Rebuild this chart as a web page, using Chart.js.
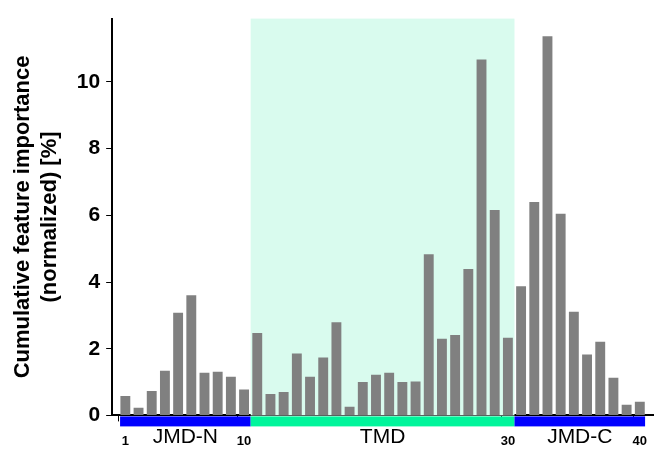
<!DOCTYPE html>
<html>
<head>
<meta charset="utf-8">
<script src="https://cdn.jsdelivr.net/npm/chart.js@4"></script>
<style>
  body { margin: 0; background: #fff; }
  #wrap { width: 665px; height: 465px; }
</style>
</head>
<body>
<div id="wrap"><canvas id="importanceChart"></canvas></div>
<script>
// Data
const positions = Array.from({ length: 42 }, (_, i) => i); // 0 and 41 are empty padding slots
const importance = [0.58, 0.23, 0.73, 1.34, 3.08, 3.6, 1.28, 1.31, 1.16, 0.78,
                    2.47, 0.64, 0.7, 1.86, 1.16, 1.74, 2.79, 0.26, 1.0, 1.22,
                    1.28, 1.0, 1.02, 4.83, 2.3, 2.41, 4.39, 10.67, 6.16, 2.33,
                    3.87, 6.4, 11.37, 6.05, 3.11, 1.83, 2.21, 1.13, 0.32, 0.41];
const xTicks = [1, 10, 30, 40];
const regions = [
    { name: 'JMD-N', from: 0.6, to: 10.5, color: '#0000ff' },
    { name: 'TMD', from: 10.5, to: 30.5, color: '#00f59b' },
    { name: 'JMD-C', from: 30.5, to: 40.4, color: '#0000ff' }
];

// Custom plugin: TMD shading and region band below the x axis
const regionPlugin = {
    id: 'regionPlugin',
    beforeDatasetsDraw: (chart) => {
        const ctx = chart.ctx;
        const x = chart.scales.x;
        const area = chart.chartArea;
        ctx.save();
        ctx.fillStyle = '#d9fbee';
        ctx.fillRect(x.getPixelForValue(10.5), area.top,
                     x.getPixelForValue(30.5) - x.getPixelForValue(10.5), area.bottom - area.top);
        ctx.restore();
    },
    afterDraw: (chart) => {
        const ctx = chart.ctx;
        const x = chart.scales.x;
        const bottom = chart.chartArea.bottom;
        ctx.save();
        regions.forEach(r => {
            const x0 = x.getPixelForValue(r.from);
            const x1 = x.getPixelForValue(r.to);
            ctx.fillStyle = r.color;
            ctx.fillRect(x0, bottom + 1, x1 - x0, 10);
            ctx.fillStyle = '#000';
            ctx.font = '21px "Liberation Sans", Arial';
            ctx.textAlign = 'center';
            ctx.textBaseline = 'middle';
            ctx.fillText(r.name, (x0 + x1) / 2, bottom + 22);
        });
        ctx.restore();
    }
};

const ctx = document.getElementById('importanceChart').getContext('2d');
new Chart(ctx, {
    type: 'bar',
    data: {
        labels: positions.map(String),
        datasets: [{
            data: [null].concat(importance, [null]),
            backgroundColor: '#808080',
            barPercentage: 0.75,
            categoryPercentage: 1
        }]
    },
    options: {
        responsive: true,
        maintainAspectRatio: false,
        animation: false,
        layout: { padding: { top: 8, right: 10, bottom: 4, left: 6 } },
        scales: {
            x: {
                offset: false,
                ticks: {
                    autoSkip: false,
                    maxRotation: 0,
                    color: '#000',
                    padding: 12,
                    font: { family: '"Liberation Sans", Arial', size: 13, weight: 'bold' },
                    callback: (v) => xTicks.includes(v) ? String(v) : ''
                },
                grid: {
                    display: true, drawOnChartArea: false, drawTicks: true, tickLength: 6,
                    color: (c) => xTicks.includes(c.index) ? '#000' : 'rgba(0,0,0,0)'
                },
                border: { color: '#000', width: 2 }
            },
            y: {
                min: 0,
                max: 11.9,
                afterBuildTicks: (axis) => { axis.ticks = [0, 2, 4, 6, 8, 10].map(v => ({ value: v })); },
                ticks: {
                    color: '#000',
                    padding: 6,
                    font: { family: '"Liberation Sans", Arial', size: 21, weight: 'bold' }
                },
                grid: { display: true, drawOnChartArea: false, drawTicks: true, tickLength: 6, color: '#000' },
                border: { color: '#000', width: 2 },
                title: {
                    display: true,
                    text: ['Cumulative feature importance', '(normalized) [%]'],
                    color: '#000',
                    font: { family: '"Liberation Sans", Arial', size: 22, weight: 'bold' },
                    padding: { bottom: 8 }
                }
            }
        },
        plugins: {
            legend: { display: false },
            tooltip: { enabled: false }
        }
    },
    plugins: [regionPlugin]
});
</script>
</body>
</html>
